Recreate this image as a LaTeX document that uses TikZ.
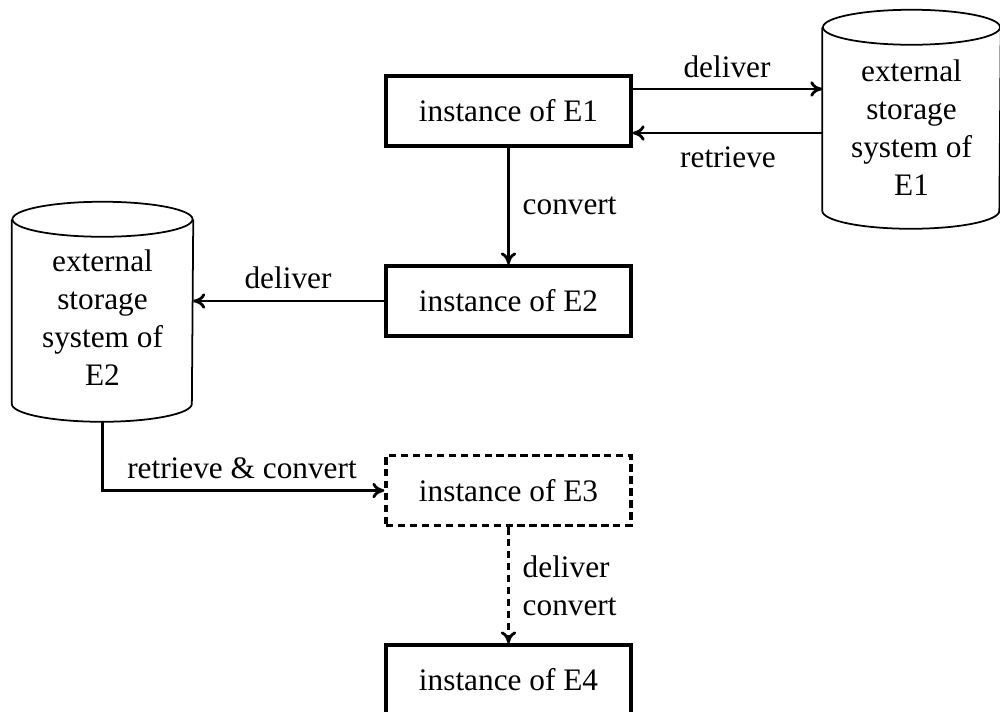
\documentclass[tikz,border=0pt]{standalone}
\usepackage{fontspec}
\setmainfont{Liberation Serif}
\usetikzlibrary{arrows.meta}
\begin{document}
\begin{tikzpicture}[x=0.01cm,y=-0.01cm,
  every node/.style={font=\fontsize{8.9pt}{10.8pt}\selectfont},
  inst/.style={draw,line width=0.9pt,minimum width=2.45cm,minimum height=0.70cm,inner sep=0pt},
  instdash/.style={inst,dash pattern=on 2.1pt off 1.3pt},
  cylbody/.style={draw=none,minimum width=1.77cm,minimum height=1.82cm,inner sep=0pt},
  cylline/.style={line width=0.5pt},
  cyltext/.style={align=center,inner sep=0pt},
  arr/.style={line width=0.8pt,-{To[length=3.4pt,width=4.4pt]}},
  arrdash/.style={arr,dash pattern=on 2.1pt off 1.3pt},
  lbl/.style={inner sep=0pt}]
\useasboundingbox (0,0) rectangle (1000,711);
\clip (0,0) rectangle (1000,711);

% boxes
\node[inst] (e1) at (508.5,111) {instance of E1};
\node[inst] (e2) at (508.5,301) {instance of E2};
\node[instdash] (e3) at (508.5,490.5) {instance of E3};
\node[inst] (e4) at (508.5,680) {instance of E4};

% cylinder E1
\node[cylbody] (s1) at (911.5,119) {};
\draw[cylline] (s1.north) ellipse [x radius=0.885cm,y radius=0.175cm];
\draw[cylline] (s1.north west) -- (s1.south west)
  arc[start angle=180,end angle=360,x radius=0.885cm,y radius=0.18cm]
  -- (s1.north east);
\node[cyltext] (t1) at (911.5,128) {external\\storage\\system of\\E1};

% cylinder E2
\node[cylbody,minimum width=1.80cm,minimum height=1.83cm] (s2) at (102.5,311.5) {};
\draw[cylline] (s2.north) ellipse [x radius=0.90cm,y radius=0.175cm];
\draw[cylline] (s2.north west) -- (s2.south west)
  arc[start angle=180,end angle=360,x radius=0.90cm,y radius=0.18cm]
  -- (s2.north east);
\node[cyltext] (t2) at (102.5,318) {external\\storage\\system of\\E2};

% connectors
\draw[arr] ([yshift=0.22cm]e1.east) -- ([yshift=0.22cm]e1.east -| s1.west);
\draw[arr] ([yshift=-0.22cm]e1.east -| s1.west) -- ([yshift=-0.22cm]e1.east);
\draw[arr] (e1.south) -- (e2.north);
\draw[arr] (e2.west) -- (e2.west -| s2.east);
\coordinate (s2b) at ([yshift=-0.18cm]s2.south);
\draw[arr] (s2b) |- (e3.west);
\draw[arrdash] (e3.south) -- (e4.north);

% labels
\node[lbl,anchor=base] (l1) at (727,77) {deliver};
\node[lbl,anchor=base] (l2) at (728,167) {retrieve};
\node[lbl,anchor=base west] (l3) at (522,214) {convert};
\node[lbl,anchor=base] (l4) at (288,288) {deliver};
\node[lbl,anchor=base] (l5) at (242,478) {retrieve \& convert};
\node[lbl,anchor=base west] (l6) at (522,577) {deliver};
\node[lbl,anchor=base west] (l7) at (522,615) {convert};
\end{tikzpicture}
\end{document}
